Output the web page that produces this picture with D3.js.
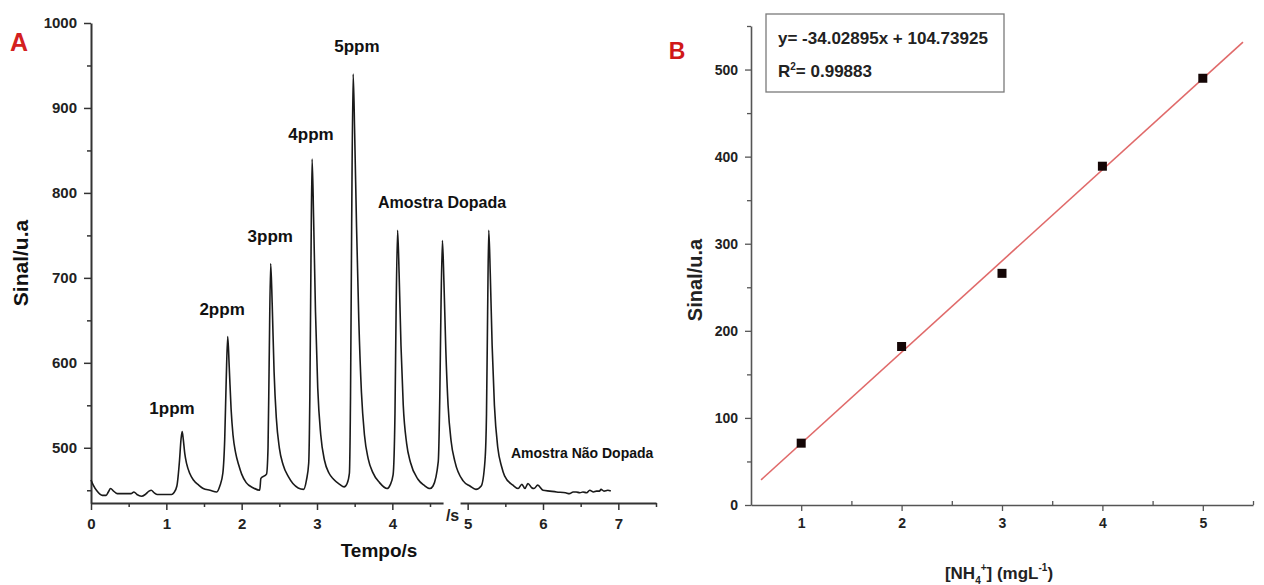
<!DOCTYPE html>
<html>
<head>
<meta charset="utf-8">
<script src="https://cdn.jsdelivr.net/npm/d3@7"></script>
<style>
  body { margin: 0; background: #fff; }
  svg { display: block; font-family: "Liberation Sans", Arial, sans-serif; }
  .axis text { font-weight: bold; fill: #222; }
</style>
</head>
<body>
<svg id="chart" width="1264" height="585"></svg>
<script>
// Panel A: FIA signal trace [tempo (s), sinal (u.a)]
const traceA = [
  [0.00, 462], [0.03, 456], [0.08, 449], [0.15, 444], [0.20, 444], [0.23, 448], [0.26, 452],
  [0.30, 449], [0.35, 446], [0.45, 446], [0.53, 446], [0.57, 448], [0.61, 445], [0.67, 443],
  [0.72, 445], [0.77, 449], [0.80, 450], [0.84, 447], [0.88, 445], [1.07, 445], [1.10, 447],
  [1.14, 455], [1.175, 485], [1.195, 510], [1.21, 519], [1.225, 510], [1.245, 493], [1.27, 481],
  [1.31, 470], [1.36, 462], [1.43, 456], [1.49, 452], [1.58, 450], [1.67, 448],
  [1.71, 455], [1.75, 470], [1.775, 510], [1.795, 580], [1.815, 631], [1.835, 595], [1.86, 545],
  [1.885, 515], [1.92, 494], [1.96, 480], [2.00, 469], [2.06, 459], [2.15, 453], [2.24, 450],
  [2.255, 464], [2.33, 469], [2.35, 500], [2.365, 600], [2.385, 717], [2.405, 670], [2.43, 590],
  [2.46, 535], [2.50, 500], [2.55, 480], [2.62, 466], [2.68, 458], [2.82, 451],
  [2.86, 462], [2.89, 482], [2.905, 560], [2.92, 720], [2.935, 840], [2.955, 770], [2.98, 660],
  [3.01, 570], [3.05, 515], [3.10, 485], [3.16, 470], [3.22, 463], [3.30, 457], [3.36, 454],
  [3.40, 458], [3.43, 470], [3.445, 560], [3.46, 760], [3.48, 940], [3.50, 870], [3.525, 760],
  [3.555, 650], [3.59, 565], [3.63, 515], [3.68, 487], [3.74, 471], [3.83, 459], [3.93, 452],
  [3.97, 456], [4.01, 468], [4.035, 540], [4.05, 660], [4.07, 756], [4.09, 705], [4.115, 620],
  [4.145, 550], [4.19, 505], [4.24, 483], [4.34, 463], [4.42, 456], [4.50, 452],
  [4.54, 455], [4.61, 484], [4.63, 560], [4.645, 660], [4.665, 744], [4.685, 695], [4.71, 615],
  [4.74, 550], [4.78, 508], [4.83, 484], [4.94, 461], [5.03, 455], [5.11, 451],
  [5.18, 455], [5.23, 485], [5.25, 540], [5.265, 660], [5.28, 756], [5.30, 705], [5.325, 620],
  [5.355, 550], [5.40, 500], [5.45, 478], [5.49, 467], [5.60, 456],
  [5.67, 452], [5.72, 457], [5.76, 452], [5.80, 458], [5.85, 453], [5.88, 452],
  [5.93, 456], [6.00, 450], [6.09, 449], [6.18, 448], [6.30, 447], [6.35, 446], [6.40, 448],
  [6.44, 448], [6.49, 447], [6.53, 448], [6.58, 447], [6.62, 450], [6.67, 448], [6.71, 449],
  [6.75, 449], [6.77, 451], [6.81, 449], [6.86, 450], [6.90, 449]
];

const peakLabels = [
  { text: "1ppm", t: 1.075, v: 545, size: 17 },
  { text: "2ppm", t: 1.74, v: 661, size: 17 },
  { text: "3ppm", t: 2.38, v: 747, size: 17 },
  { text: "4ppm", t: 2.92, v: 867, size: 17 },
  { text: "5ppm", t: 3.53, v: 971, size: 17 },
  { text: "Amostra Dopada", t: 4.66, v: 787, size: 16 },
  { text: "Amostra Não Dopada", t: 6.52, v: 492, size: 14 }
];

const xTicksA = [0, 1, 2, 3, 4, 5, 6, 7];
const yTicksA = [500, 600, 700, 800, 900, 1000];

// Panel B: calibration curve
const concB = [1, 2, 3, 4, 5];
const sinalB = [71, 182, 266, 389, 490];
const fitSlope = 104.73925;
const fitIntercept = -34.02895;
const fitRange = [0.6, 5.4];
const xTicksB = [1, 2, 3, 4, 5];
const yTicksB = [0, 100, 200, 300, 400, 500];

const svg = d3.select("#chart");
const fmt = d3.format("d");

// ---------- Panel A ----------
const xA = d3.scaleLinear().domain([0, 7.5]).range([91, 656]);
const yA = d3.scaleLinear().domain([435, 1000]).range([503, 23]);

function styleAxis(g, width) {
  g.select(".domain").attr("stroke", "#333").attr("stroke-width", width);
  g.selectAll(".tick line").attr("stroke", "#333").attr("stroke-width", 1.5);
}

const axA_x = svg.append("g").attr("class", "axis")
  .attr("transform", "translate(0,503)")
  .call(d3.axisBottom(xA).tickValues(xTicksA).tickFormat(fmt).tickSize(7).tickPadding(8).tickSizeOuter(0))
  .call(g => g.selectAll("text").style("font-size", "15px"));
svg.append("g").attr("transform", "translate(0,503)")
  .call(d3.axisBottom(xA).tickValues(d3.range(0.5, 7.6, 1)).tickSize(4).tickFormat(""))
  .call(g => g.select(".domain").remove())
  .call(g => g.selectAll("line").attr("stroke", "#333").attr("stroke-width", 1.5));
styleAxis(axA_x, 2);

const axA_y = svg.append("g").attr("class", "axis")
  .attr("transform", "translate(91,0)")
  .call(d3.axisLeft(yA).tickValues(yTicksA).tickFormat(fmt).tickSize(7).tickPadding(7).tickSizeOuter(0))
  .call(g => g.selectAll("text").style("font-size", "15px"));
svg.append("g").attr("transform", "translate(91,0)")
  .call(d3.axisLeft(yA).tickValues(d3.range(450, 1000, 100)).tickSize(4).tickFormat(""))
  .call(g => g.select(".domain").remove())
  .call(g => g.selectAll("line").attr("stroke", "#333").attr("stroke-width", 1.5));
styleAxis(axA_y, 2);

const lineA = d3.line()
  .x(d => xA(d[0]))
  .y(d => yA(d[1]))
  .curve(d3.curveMonotoneX);

svg.append("path")
  .datum(traceA)
  .attr("fill", "none")
  .attr("stroke", "#1a1a1a")
  .attr("stroke-width", 1.6)
  .attr("stroke-linejoin", "round")
  .attr("d", lineA);

svg.selectAll("text.peak")
  .data(peakLabels)
  .join("text")
    .attr("class", "peak")
    .attr("x", d => xA(d.t))
    .attr("y", d => yA(d.v))
    .attr("text-anchor", "middle")
    .attr("dominant-baseline", "middle")
    .style("font-size", d => d.size + "px")
    .style("font-weight", "bold")
    .style("fill", "#111")
    .text(d => d.text);

// stray "/s" over the axis
svg.append("rect")
  .attr("x", xA(4.68)).attr("y", 498)
  .attr("width", 17).attr("height", 26)
  .attr("fill", "#fff");
svg.append("text")
  .attr("x", xA(4.68) + 9).attr("y", 521)
  .attr("text-anchor", "middle")
  .style("font-size", "16px").style("font-weight", "bold").style("fill", "#222")
  .text("/s");

svg.append("text")
  .attr("x", 379).attr("y", 557)
  .attr("text-anchor", "middle")
  .style("font-size", "19px").style("font-weight", "bold").style("fill", "#111")
  .text("Tempo/s");

svg.append("text")
  .attr("transform", "translate(28,263) rotate(-90)")
  .attr("text-anchor", "middle")
  .style("font-size", "21px").style("font-weight", "bold").style("fill", "#111")
  .text("Sinal/u.a");

svg.append("text")
  .attr("x", 19).attr("y", 51)
  .attr("text-anchor", "middle")
  .style("font-size", "25px").style("font-weight", "bold").style("fill", "#d42020")
  .text("A");

// ---------- Panel B ----------
const xB = d3.scaleLinear().domain([0.5, 5.5]).range([751, 1253]);
const yB = d3.scaleLinear().domain([0, 550]).range([505, 26]);

function styleAxisB(g) {
  g.select(".domain").attr("stroke", "#555").attr("stroke-width", 1.6);
  g.selectAll(".tick line").attr("stroke", "#555").attr("stroke-width", 1.3);
}

const axB_x = svg.append("g").attr("class", "axis")
  .attr("transform", "translate(0,505)")
  .call(d3.axisBottom(xB).tickValues(xTicksB).tickFormat(fmt).tickSize(6).tickPadding(7).tickSizeOuter(0))
  .call(g => g.selectAll("text").style("font-size", "14px"));
svg.append("g").attr("transform", "translate(0,505)")
  .call(d3.axisBottom(xB).tickValues(d3.range(1.5, 5.6, 1)).tickSize(-4).tickFormat(""))
  .call(g => g.select(".domain").remove())
  .call(g => g.selectAll("line").attr("stroke", "#555").attr("stroke-width", 1.3));
styleAxisB(axB_x);

const axB_y = svg.append("g").attr("class", "axis")
  .attr("transform", "translate(751,0)")
  .call(d3.axisLeft(yB).tickValues(yTicksB).tickFormat(fmt).tickSize(6).tickPadding(7).tickSizeOuter(0))
  .call(g => g.selectAll("text").style("font-size", "14px"));
svg.append("g").attr("transform", "translate(751,0)")
  .call(d3.axisLeft(yB).tickValues(d3.range(50, 551, 100)).tickSize(4).tickFormat(""))
  .call(g => g.select(".domain").remove())
  .call(g => g.selectAll("line").attr("stroke", "#555").attr("stroke-width", 1.3));
styleAxisB(axB_y);

svg.append("line")
  .attr("x1", xB(fitRange[0])).attr("y1", yB(fitSlope * fitRange[0] + fitIntercept))
  .attr("x2", xB(fitRange[1])).attr("y2", yB(fitSlope * fitRange[1] + fitIntercept))
  .attr("stroke", "#e06a6a")
  .attr("stroke-width", 1.6);

const ptsB = concB.map((c, i) => ({ c, s: sinalB[i] }));
svg.selectAll("rect.pt")
  .data(ptsB)
  .join("rect")
    .attr("class", "pt")
    .attr("x", d => xB(d.c) - 4.5)
    .attr("y", d => yB(d.s) - 4.5)
    .attr("width", 9)
    .attr("height", 9)
    .attr("fill", "#140606");

// equation box
svg.append("rect")
  .attr("x", 766).attr("y", 14)
  .attr("width", 238).attr("height", 78)
  .attr("fill", "#fff")
  .attr("stroke", "#7a7a7a")
  .attr("stroke-width", 1.3);

svg.append("text")
  .attr("x", 778).attr("y", 44)
  .style("font-size", "17px").style("font-weight", "bold").style("fill", "#222")
  .text("y= -34.02895x + 104.73925");

const r2 = svg.append("text")
  .attr("x", 778).attr("y", 77)
  .style("font-size", "17px").style("font-weight", "bold").style("fill", "#222");
r2.append("tspan").text("R");
r2.append("tspan").attr("dy", -7).style("font-size", "10px").text("2");
r2.append("tspan").attr("dy", 7).text("= 0.99883");

svg.append("text")
  .attr("transform", "translate(702,280) rotate(-90)")
  .attr("text-anchor", "middle")
  .style("font-size", "20px").style("font-weight", "bold").style("fill", "#222")
  .text("Sinal/u.a");

const xl = svg.append("text")
  .attr("x", 999).attr("y", 579)
  .attr("text-anchor", "middle")
  .style("font-size", "17px").style("font-weight", "bold").style("fill", "#222");
xl.append("tspan").text("[NH");
xl.append("tspan").attr("dy", 5).style("font-size", "10px").text("4");
xl.append("tspan").attr("dy", -13).style("font-size", "10px").text("+");
xl.append("tspan").attr("dy", 8).text("] (mgL");
xl.append("tspan").attr("dy", -8).style("font-size", "10px").text("-1");
xl.append("tspan").attr("dy", 8).text(")");

svg.append("text")
  .attr("x", 677).attr("y", 59)
  .attr("text-anchor", "middle")
  .style("font-size", "23px").style("font-weight", "bold").style("fill", "#d01818")
  .text("B");
</script>
</body>
</html>
